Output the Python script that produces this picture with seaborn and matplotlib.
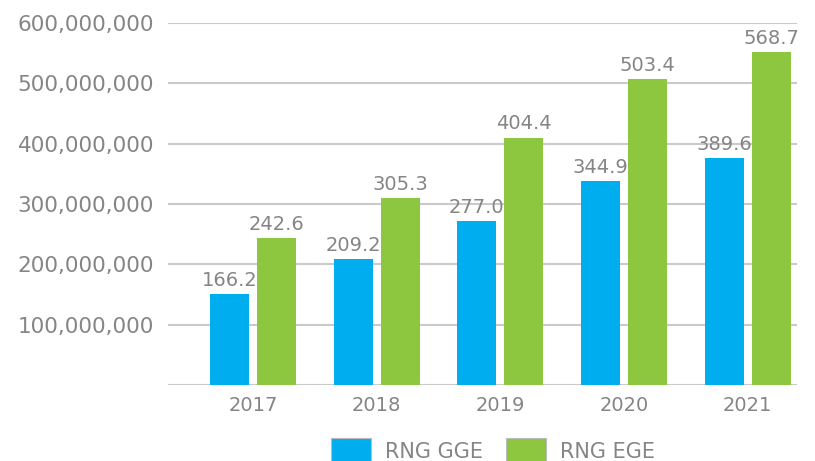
import matplotlib
matplotlib.use("Agg")
import matplotlib.pyplot as plt
import seaborn as sns
import pandas as pd
from matplotlib.patches import Patch
from matplotlib.ticker import FuncFormatter

# values (bar heights) and the printed labels
years = ["2017", "2018", "2019", "2020", "2021"]
gge_values = [151e6, 209e6, 272e6, 338e6, 376e6]
ege_values = [244e6, 310e6, 410e6, 507e6, 552e6]
gge_labels = ["166.2", "209.2", "277.0", "344.9", "389.6"]
ege_labels = ["242.6", "305.3", "404.4", "503.4", "568.7"]
series = ["RNG GGE", "RNG EGE"]

BLUE = "#00AEEF"
GREEN = "#8DC63F"
GREY = "#858585"

df = pd.DataFrame({
    "year": years * 2,
    "value": gge_values + ege_values,
    "series": [series[0]] * len(years) + [series[1]] * len(years),
})

sns.set_style("white")
plt.rcParams["font.family"] = ["DejaVu Sans"]

fig = plt.figure(figsize=(8.15, 4.61), dpi=100)
ax = fig.add_axes([0.206, 0.165, 0.772, 0.785])

sns.barplot(
    data=df, x="year", y="value", hue="series",
    palette=[BLUE, GREEN], width=0.76, gap=0.17,
    saturation=1, linewidth=0, ax=ax, legend=False,
)

ax.bar_label(ax.containers[0], labels=gge_labels, padding=3, color=GREY, fontsize=14)
ax.bar_label(ax.containers[1], labels=ege_labels, padding=3, color=GREY, fontsize=14)

ax.set_ylim(0, 600e6)
ax.set_xlim(-0.69, 4.40)
ax.set_yticks([0, 100e6, 200e6, 300e6, 400e6, 500e6, 600e6])
ax.yaxis.set_major_formatter(FuncFormatter(lambda v, p: "" if v == 0 else f"{int(v):,}"))
ax.grid(axis="y", color="#CACACA", linewidth=1.5)
ax.set_axisbelow(True)
for s in ax.spines.values():
    s.set_visible(False)

ax.tick_params(axis="y", length=0, pad=10, labelsize=15.5, labelcolor=GREY)
ax.tick_params(axis="x", length=0, pad=8, labelsize=14, labelcolor=GREY)
ax.set_xlabel("")
ax.set_ylabel("")

handles = [
    Patch(facecolor=BLUE, edgecolor="#BBBBBB", linewidth=0.8),
    Patch(facecolor=GREEN, edgecolor="#BBBBBB", linewidth=0.8),
]
fig.legend(
    handles, series, loc="upper center", bbox_to_anchor=(0.605, 0.05),
    ncol=2, frameon=False, fontsize=15, labelcolor=GREY,
    handlelength=1.9, handleheight=1.5, handletextpad=0.7,
    columnspacing=1.1, borderpad=0, borderaxespad=0,
)

fig.savefig("out.png", dpi=100)
